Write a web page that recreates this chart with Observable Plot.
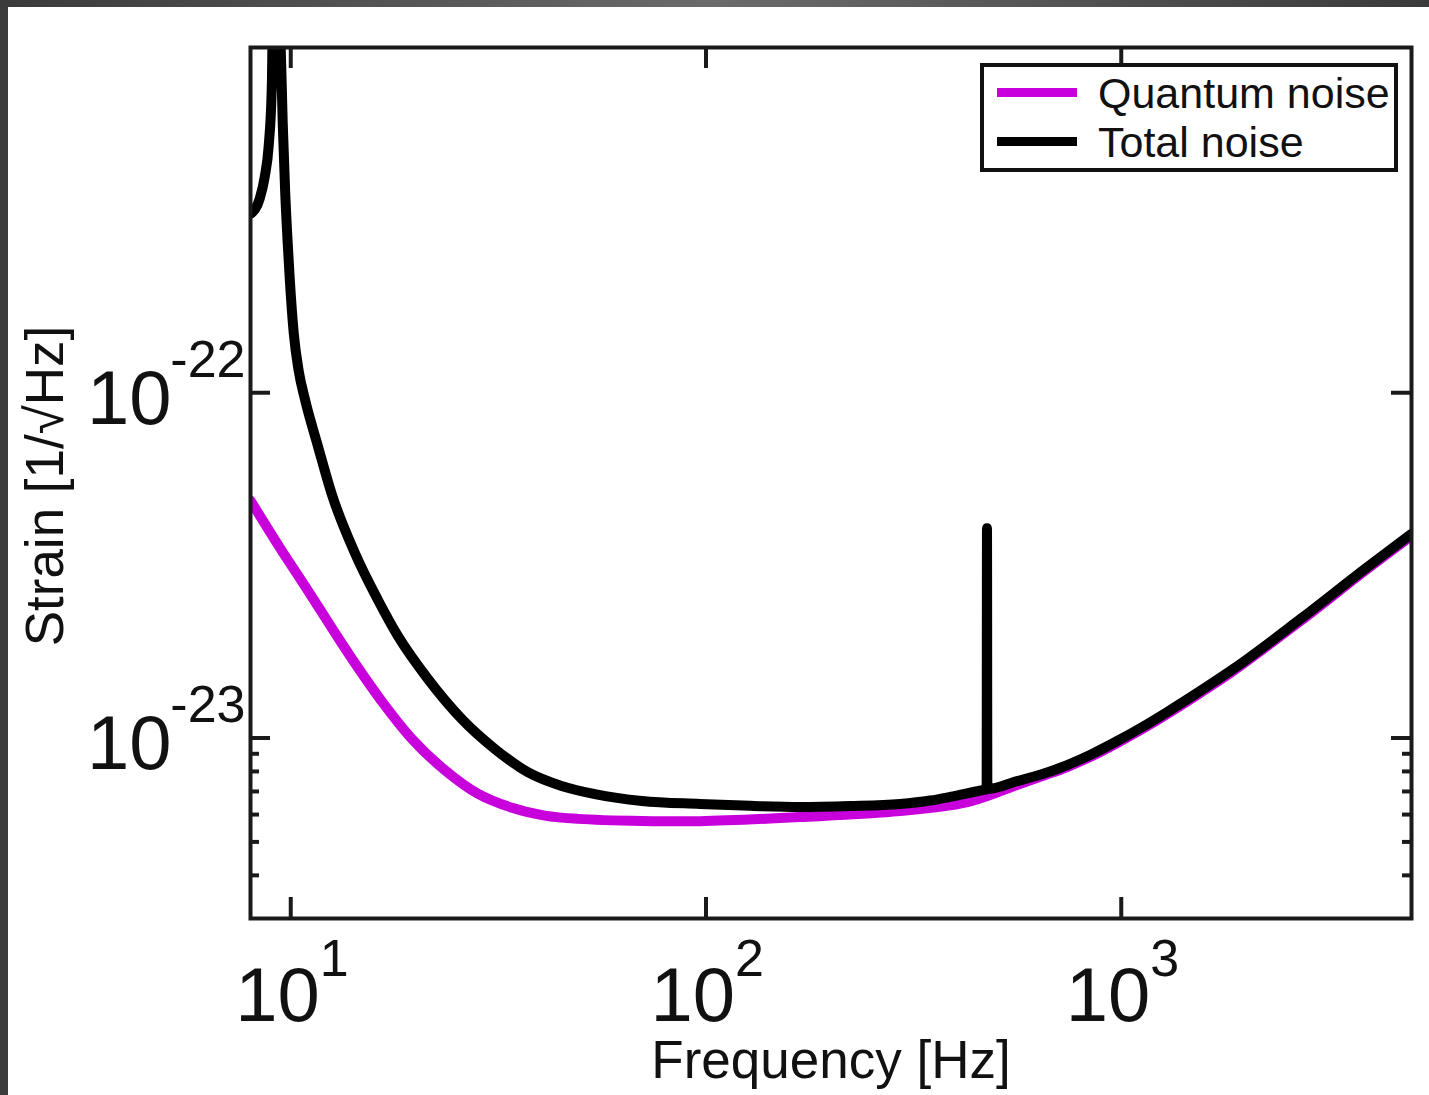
<!DOCTYPE html>
<html>
<head>
<meta charset="utf-8">
<script src="https://cdn.jsdelivr.net/npm/d3@7"></script>
<script src="https://cdn.jsdelivr.net/npm/@observablehq/plot@0.6"></script>
<style>
html, body { margin: 0; padding: 0; }
body { width: 1429px; height: 1095px; background: #3c3c3c; position: relative; overflow: hidden;
       font-family: "Liberation Sans", Arial, Helvetica, sans-serif; }
#topbar { position: absolute; left: 0; top: 0; width: 1429px; height: 7px;
          background: linear-gradient(to right, #3a3a3a, #6b6b6b 50%, #3a3a3a); }
#page { position: absolute; left: 8px; top: 7px; width: 1421px; height: 1088px; background: #fff; }
#legend { position: absolute; left: 972px; top: 56px; width: 418px; height: 109px; box-sizing: border-box;
          border: 4px solid #111; background: #fff; }
.swatch { position: absolute; left: 13px; width: 80px; height: 9px; }
.ltext { position: absolute; left: 114px; font-size: 43px; line-height: 43px; color: #111; white-space: nowrap; }
</style>
</head>
<body>
<div id="topbar"></div>
<div id="page">
  <div id="chart"></div>
  <div id="legend">
    <div class="swatch" id="sw0" style="top:21px"></div>
    <div class="ltext" id="lt0" style="top:5px"></div>
    <div class="swatch" id="sw1" style="top:70px"></div>
    <div class="ltext" id="lt1" style="top:54px"></div>
  </div>
</div>
<script>
// ---- data ----
const seriesNames = ["Quantum noise", "Total noise"];
const seriesColors = ["#c800dc", "#000000"];

const quantumFreq = [8.0, 9.41, 10.81, 12.41, 14.26, 16.39, 19.6, 23.5, 28.2, 34.1, 40.9, 49.2, 70.1, 96.7, 168.5, 293, 426, 561, 646, 741, 851, 978, 1124, 1291, 1549, 1862, 2700, 3917, 5000];
const quantumStrain = [4.87e-23, 3.56e-23, 2.76e-23, 2.13e-23, 1.65e-23, 1.30e-23, 9.93e-24, 8.07e-24, 6.9e-24, 6.28e-24, 5.96e-24, 5.83e-24, 5.75e-24, 5.74e-24, 5.90e-24, 6.14e-24, 6.52e-24, 7.31e-24, 7.76e-24, 8.24e-24, 8.87e-24, 9.67e-24, 1.062e-23, 1.174e-23, 1.35e-23, 1.564e-23, 2.18e-23, 3.09e-23, 3.85e-23];

const totalFreq = [8.01, 8.42, 8.66, 8.85, 9.0, 9.15, 9.3, 9.46, 9.566, 9.70, 9.835, 9.945, 10.17, 10.45, 10.81, 11.62, 12.55, 14.26, 16.22, 18.11, 21.39, 25.81, 31.03, 37.23, 44.9, 54.0, 70.1, 96.7, 127.7, 168.5, 222, 293, 346.6, 387, 465, 474, 475, 476, 561.5, 646, 741, 851, 978, 1124, 1291, 1549, 1862, 2700, 3917, 5000];
const totalStrain = [3.3e-22, 3.65e-22, 4.23e-22, 5.2e-22, 7.6e-22, 3e-21, 1.3e-21, 9.93e-22, 6.02e-22, 3.77e-22, 2.70e-22, 2.14e-22, 1.483e-22, 1.158e-22, 9.61e-23, 7.02e-23, 5.09e-23, 3.44e-23, 2.51e-23, 1.975e-23, 1.483e-23, 1.135e-23, 9.29e-24, 7.96e-24, 7.26e-24, 6.88e-24, 6.57e-24, 6.44e-24, 6.36e-24, 6.31e-24, 6.35e-24, 6.44e-24, 6.59e-24, 6.75e-24, 7.07e-24, 7.1e-24, 4.05e-23, 7.11e-24, 7.5e-24, 7.86e-24, 8.35e-24, 8.99e-24, 9.8e-24, 1.076e-23, 1.19e-23, 1.368e-23, 1.585e-23, 2.21e-23, 3.13e-23, 3.9e-23];

const xDomain = [8, 5000];
const yDomain = [3e-24, 1e-21];
const xMajorTicks = [10, 100, 1000];
const xTickExponents = ["1", "2", "3"];
const yMajorTicks = [1e-22, 1e-23];
const yTickExponents = ["-22", "-23"];
const yMinorTicks = [4e-24, 5e-24, 6e-24, 7e-24, 8e-24, 9e-24];
const xLabel = "Frequency [Hz]";
const yLabel = "Strain [1/\u221AHz]";

// ---- tables ----
const quantum = quantumFreq.map((f, i) => ({f, s: quantumStrain[i]}));
const total = totalFreq.map((f, i) => ({f, s: totalStrain[i]}));

const W = 1421, H = 1088, ML = 242, MR = 18, MT = 40, MB = 177;
const frameW = W - ML - MR, frameH = H - MT - MB;
const axisColor = "#1a1a1a";
const font = "Liberation Sans, Arial, Helvetica, sans-serif";

const lineOpts = {x: "f", y: "s", strokeWidth: 10, clip: true,
                  strokeLinejoin: "round", strokeLinecap: "round"};

const chart = Plot.plot({
  width: W, height: H,
  marginLeft: ML, marginRight: MR, marginTop: MT, marginBottom: MB,
  style: {fontFamily: font, background: "white", color: "#111"},
  x: {type: "log", domain: xDomain, axis: null},
  y: {type: "log", domain: yDomain, axis: null},
  marks: [
    Plot.line(quantum, {...lineOpts, curve: "catmull-rom", stroke: seriesColors[0]}),
    Plot.line(total, {...lineOpts, curve: "monotone-x", stroke: seriesColors[1]}),
    // ticks (inward)
    Plot.tickX(xMajorTicks, {x: d => d, stroke: axisColor, strokeWidth: 4, insetTop: frameH - 21}),
    Plot.tickX(xMajorTicks, {x: d => d, stroke: axisColor, strokeWidth: 4, insetBottom: frameH - 21}),
    Plot.tickY(yMajorTicks, {y: d => d, stroke: axisColor, strokeWidth: 4, insetRight: frameW - 20}),
    Plot.tickY(yMajorTicks, {y: d => d, stroke: axisColor, strokeWidth: 4, insetLeft: frameW - 20}),
    Plot.tickY(yMinorTicks, {y: d => d, stroke: axisColor, strokeWidth: 4, insetRight: frameW - 9}),
    Plot.tickY(yMinorTicks, {y: d => d, stroke: axisColor, strokeWidth: 4, insetLeft: frameW - 9}),
    Plot.frame({stroke: axisColor, strokeWidth: 4}),
    // x tick labels
    Plot.text(xMajorTicks, {x: d => d, frameAnchor: "bottom", text: () => "10", textAnchor: "end",
      lineAnchor: "bottom", dx: 29, dy: 102, fontSize: 76, fill: "#111"}),
    Plot.text(xMajorTicks, {x: d => d, frameAnchor: "bottom", text: (d, i) => xTickExponents[i], textAnchor: "start",
      lineAnchor: "bottom", dx: 29, dy: 57, fontSize: 52, fill: "#111"}),
    // y tick labels
    Plot.text(yMajorTicks, {y: d => d, frameAnchor: "left", text: () => "10", textAnchor: "end",
      lineAnchor: "bottom", dx: -79, dy: 31, fontSize: 76, fill: "#111"}),
    Plot.text(yMajorTicks, {y: d => d, frameAnchor: "left", text: (d, i) => yTickExponents[i], textAnchor: "end",
      lineAnchor: "bottom", dx: -5, dy: -16, fontSize: 52, fill: "#111"}),
    // axis titles
    Plot.text([xLabel], {frameAnchor: "bottom", text: d => d, textAnchor: "middle", lineAnchor: "bottom", dy: 159, fontSize: 53, fill: "#111"}),
    Plot.text([yLabel], {frameAnchor: "left", text: d => d, textAnchor: "middle", rotate: -90, lineAnchor: "bottom", dx: -188, dy: 3, fontSize: 53, fill: "#111"})
  ]
});
document.getElementById("chart").appendChild(chart);

// legend
for (let i = 0; i < 2; i++) {
  document.getElementById("sw" + i).style.background = seriesColors[i];
  document.getElementById("lt" + i).textContent = seriesNames[i];
}
</script>
</body>
</html>
